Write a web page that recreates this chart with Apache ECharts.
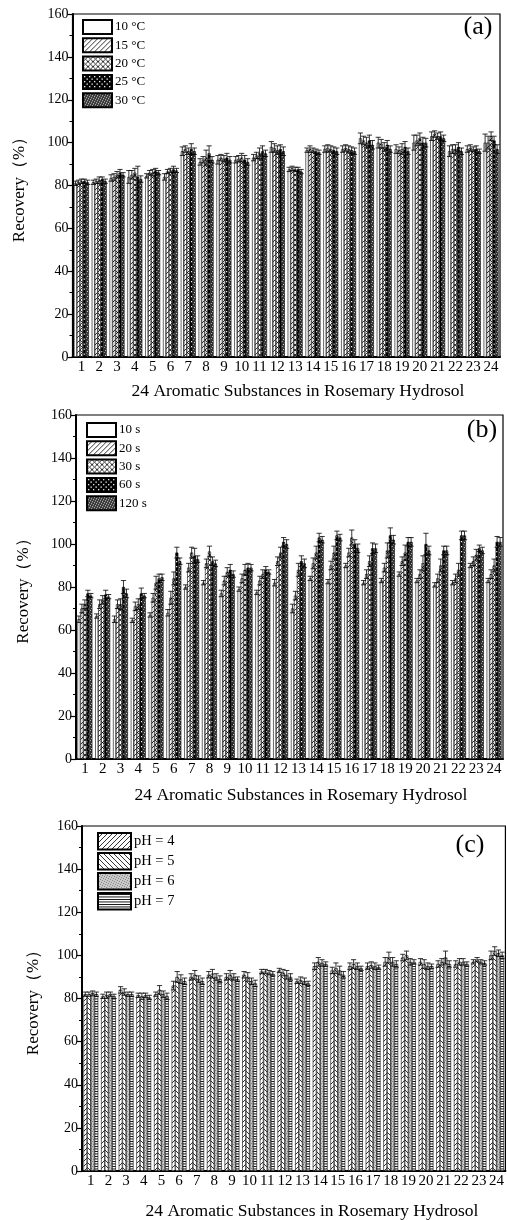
<!DOCTYPE html>
<html><head><meta charset="utf-8">
<script src="https://cdn.jsdelivr.net/npm/echarts/dist/echarts.min.js"></script>
<style>html,body{margin:0;padding:0;background:#fff;}#c{width:507px;height:1220px;}</style>
</head><body><div id="c"></div>
<script>
const categories = ['1','2','3','4','5','6','7','8','9','10','11','12','13','14','15','16','17','18','19','20','21','22','23','24'];
const yTickValues = [0,20,40,60,80,100,120,140,160];

// Panel (a): temperature
const tempNames = ['10 °C','15 °C','20 °C','25 °C','30 °C'];
const t10 = [81.0,81.5,83.5,84.0,84.5,84.0,96.0,91.0,92.0,92.0,93.0,98.0,87.5,96.5,97.0,97.0,102.0,100.0,97.0,100.0,103.0,96.0,97.0,100.0];
const t15 = [81.5,82.0,84.0,85.0,86.0,86.5,97.0,92.0,93.0,92.5,94.0,97.5,88.0,97.0,97.5,97.5,101.0,99.5,96.5,101.0,104.0,97.0,97.5,100.0];
const t20 = [82.0,82.5,85.0,86.0,86.0,87.0,96.0,93.0,92.5,93.0,95.0,96.5,87.5,96.5,97.0,97.0,100.0,98.0,97.0,102.0,103.0,97.0,97.0,103.0];
const t25 = [82.0,83.0,86.0,84.0,87.0,87.5,97.0,95.0,93.0,92.0,96.0,97.0,87.5,96.0,96.5,96.5,101.0,99.0,98.0,100.0,103.0,98.0,97.0,101.0];
const t30 = [81.5,82.0,85.0,83.0,86.0,87.0,96.0,92.0,92.0,91.0,95.0,96.0,86.5,95.5,96.0,96.0,99.0,97.0,96.0,100.0,102.0,96.0,96.0,97.0];
const et10 = [1.0,1.0,1.5,3.0,1.0,1.5,2.0,1.5,2.0,1.5,1.5,2.5,1.0,1.0,1.5,1.5,2.5,2.5,2.0,3.5,2.0,2.5,1.5,4.0];
const et15 = [1.0,1.0,1.5,2.0,1.0,1.0,1.5,1.5,1.5,1.5,1.5,2.0,1.0,1.5,1.5,1.5,2.0,2.0,1.5,2.5,1.5,2.0,1.5,3.0];
const et20 = [1.0,1.5,1.5,2.0,1.5,1.0,1.5,3.5,1.5,2.0,2.5,2.0,1.0,1.0,1.5,1.5,2.5,2.0,2.5,2.5,1.5,2.0,1.0,2.0];
const et25 = [1.0,1.0,1.5,5.0,1.0,1.5,2.5,3.5,2.0,2.0,2.5,2.0,1.0,1.0,1.5,1.5,2.5,2.0,2.5,2.5,2.0,2.0,1.5,2.0];
const et30 = [1.0,1.0,1.0,1.5,1.0,1.0,1.5,1.5,1.5,1.5,1.5,2.0,1.0,1.0,1.5,1.5,2.0,1.5,1.5,2.0,1.5,1.5,1.0,2.0];

// Panel (b): time
const timeNames = ['10 s','20 s','30 s','60 s','120 s'];
const s10 = [65.0,66.5,65.0,64.5,67.0,68.0,80.0,82.0,77.0,79.0,77.5,82.0,70.0,84.0,82.5,90.0,82.0,83.0,86.0,83.0,81.0,82.0,90.0,83.0];
const s20 = [70.0,72.0,72.0,71.0,75.0,75.0,89.0,91.0,83.0,84.0,83.0,92.0,76.0,91.0,90.0,96.0,86.0,89.0,92.0,86.0,84.0,84.0,92.0,86.0];
const s30 = [72.0,74.0,72.0,72.0,82.0,84.0,96.0,96.5,87.0,88.0,86.0,96.0,88.0,96.0,96.0,103.0,92.0,97.0,96.0,91.0,90.0,88.0,95.0,90.0];
const s60 = [77.0,76.5,80.0,77.0,84.0,96.0,94.5,92.0,88.0,89.0,88.0,101.0,92.0,103.0,104.0,100.0,98.0,104.0,101.0,100.0,97.0,104.0,98.0,101.0];
const s120 = [76.0,75.5,77.0,76.0,84.5,92.0,93.0,91.0,86.0,89.0,87.0,100.0,91.0,102.0,103.0,98.0,98.0,102.0,101.0,97.0,97.0,104.0,97.0,101.0];
const es10 = [1.5,1.0,1.5,1.0,1.0,1.5,1.0,1.0,1.5,1.0,1.0,1.5,2.0,1.0,1.0,1.0,1.0,1.0,1.0,1.0,1.0,1.0,1.0,1.0];
const es20 = [2.0,2.0,2.0,2.0,2.0,3.0,2.0,2.0,2.0,2.0,2.0,2.0,2.0,2.5,2.0,2.0,2.0,2.0,2.0,2.0,2.0,2.0,2.0,2.0];
const es30 = [2.0,2.0,2.5,2.5,3.0,3.0,2.5,2.5,2.0,2.5,2.0,2.5,3.0,3.0,3.0,3.5,2.5,3.5,3.5,3.5,3.0,3.0,2.5,3.0];
const es60 = [1.5,2.0,3.0,2.5,2.0,2.5,3.5,2.0,2.5,2.0,1.5,2.0,2.5,2.0,2.0,2.0,2.5,3.5,2.0,5.0,2.0,2.0,1.5,2.5];
const es120 = [1.0,1.0,2.0,1.0,1.5,1.5,1.5,1.5,1.5,1.5,1.0,2.0,2.0,1.5,1.5,2.0,2.0,2.0,2.0,2.0,2.0,2.0,1.5,2.0];

// Panel (c): pH
const phNames = ['pH = 4','pH = 5','pH = 6','pH = 7'];
const p4 = [82.0,81.0,84.0,81.5,82.0,86.0,90.0,91.0,90.0,91.0,92.5,93.0,88.0,95.0,93.0,95.0,95.0,97.0,99.0,97.0,96.0,96.0,97.0,100.0];
const p5 = [82.0,81.5,83.0,81.0,84.0,90.0,91.0,91.5,91.0,90.0,92.5,92.0,88.5,97.0,94.0,96.0,95.5,99.0,100.0,96.0,97.0,97.0,98.0,102.0];
const p6 = [82.5,82.0,82.0,81.5,82.0,89.0,89.0,90.0,90.0,88.0,92.0,91.0,88.0,96.5,93.0,95.0,95.0,97.0,97.0,95.0,99.0,97.0,97.0,101.0];
const p7 = [82.0,81.0,82.0,80.5,81.0,88.0,88.0,89.0,89.0,87.0,91.5,90.0,87.0,96.0,91.0,94.0,94.5,96.0,97.0,95.0,96.0,96.0,96.5,100.0];
const ep4 = [1.0,1.0,1.5,1.0,1.0,2.0,1.5,1.5,1.5,1.5,1.0,1.0,1.0,1.5,1.5,1.5,1.5,2.0,1.5,1.5,1.5,1.5,1.0,2.0];
const ep5 = [1.0,1.5,1.5,1.5,2.0,2.5,2.0,2.0,2.0,2.0,1.0,1.5,1.5,2.0,2.5,2.0,1.5,2.5,2.0,2.0,1.5,1.5,1.0,2.0];
const ep6 = [1.0,1.0,1.0,1.0,1.5,2.0,1.5,1.5,1.5,1.5,1.0,2.0,1.5,1.5,2.0,1.5,1.5,2.0,1.5,1.5,3.0,1.5,1.0,1.5];
const ep7 = [1.0,1.0,1.0,1.0,1.5,1.5,1.5,1.5,1.0,1.5,1.0,1.5,1.0,1.0,1.5,1.0,1.0,1.5,1.0,1.0,1.5,1.0,1.0,1.5];

const xTitle = '24 Aromatic Substances in Rosemary Hydrosol';
const yTitle = 'Recovery（%）';
const panelLabels = ['(a)','(b)','(c)'];

// ---------- styling ----------
const SERIF = '"Liberation Serif","DejaVu Serif",serif';
function makePattern(kind) {
  const s = 5;
  const c = document.createElement('canvas');
  c.width = s; c.height = s;
  const g = c.getContext('2d');
  g.fillStyle = '#fff'; g.fillRect(0, 0, s, s);
  g.strokeStyle = '#000'; g.lineWidth = 0.8;
  const line = (x1, y1, x2, y2) => { g.beginPath(); g.moveTo(x1, y1); g.lineTo(x2, y2); g.stroke(); };
  if (kind === 'diag' || kind === 'cross') { line(-1, s + 1, s + 1, -1); line(-1, 1, 1, -1); line(s - 1, s + 1, s + 1, s - 1); }
  if (kind === 'back' || kind === 'cross') { line(-1, -1, s + 1, s + 1); line(s - 1, -1, s + 1, 1); line(-1, s - 1, 1, s + 1); }
  if (kind === 'check') {
    g.fillStyle = '#000'; g.fillRect(0, 0, s, s);
    g.fillStyle = '#fff'; g.fillRect(1, 1, 1.3, 1.3); g.fillRect(3.5, 3.5, 1.3, 1.3);
  }
  if (kind === 'dots') {
    g.fillStyle = '#3a3a3a'; g.fillRect(0, 0, s, s);
    g.fillStyle = '#ccc';
    g.fillRect(0, 0, 1, 1); g.fillRect(2, 1, 1, 1); g.fillRect(4, 2, 1, 1); g.fillRect(1, 3, 1, 1); g.fillRect(3, 4, 1, 1);
  }
  if (kind === 'fine') {
    g.fillStyle = '#c8c8c8'; g.fillRect(0, 0, s, s);
    g.fillStyle = '#888';
    g.fillRect(0, 0, 1, 1); g.fillRect(2, 1, 1, 1); g.fillRect(4, 2, 1, 1); g.fillRect(1, 3, 1, 1); g.fillRect(3, 4, 1, 1);
  }
  if (kind === 'horiz') { g.fillStyle = '#000'; g.fillRect(0, 1, s, 0.9); g.fillRect(0, 3.5, s, 0.9); }
  return { image: c, repeat: 'repeat' };
}

const panels = [
  { names: tempNames, vals: [t10, t15, t20, t25, t30], errs: [et10, et15, et20, et25, et30],
    pats: ['blank', 'diag', 'cross', 'check', 'dots'],
    grid: { left: 72.5, top: 14, width: 427.5, height: 343 },
    legend: { left: 82, top: 19, itemWidth: 29, itemHeight: 14, itemGap: 2.3, fontSize: 13 },
    label: { x: 478, y: 27 }, xt: { x: 298, y: 391 }, nameGap: 44 },
  { names: timeNames, vals: [s10, s20, s30, s60, s120], errs: [es10, es20, es30, es60, es120],
    pats: ['blank', 'diag', 'cross', 'check', 'dots'],
    grid: { left: 76, top: 415, width: 427, height: 344 },
    legend: { left: 86, top: 422, itemWidth: 29, itemHeight: 14, itemGap: 2.3, fontSize: 13 },
    label: { x: 482, y: 430 }, xt: { x: 301, y: 795 }, nameGap: 44 },
  { names: phNames, vals: [p4, p5, p6, p7], errs: [ep4, ep5, ep6, ep7],
    pats: ['diag', 'back', 'fine', 'horiz'],
    grid: { left: 82, top: 826, width: 428, height: 345 },
    legend: { left: 97, top: 832, itemWidth: 33, itemHeight: 16.5, itemGap: 1.5, fontSize: 14.5 },
    label: { x: 470, y: 845 }, xt: { x: 312, y: 1211 }, nameGap: 40 }
];

const CAT_GAP = 0.16;
const grids = [], xAxes = [], yAxes = [], legends = [], series = [], graphics = [];
panels.forEach((p, pi) => {
  grids.push(Object.assign({ show: true, borderColor: '#000', borderWidth: 1.2, backgroundColor: 'transparent' }, p.grid));
  xAxes.push({
    type: 'category', gridIndex: pi, data: categories,
    axisLine: { show: true, lineStyle: { color: '#000', width: 2 } },
    axisTick: { show: false },
    axisLabel: { interval: 0, color: '#000', fontFamily: SERIF, fontSize: 15, margin: 3 },
    splitLine: { show: false }
  });
  yAxes.push({
    type: 'value', gridIndex: pi, min: yTickValues[0], max: yTickValues[yTickValues.length - 1], interval: 20,
    name: yTitle, nameLocation: 'middle', nameGap: p.nameGap,
    nameTextStyle: { color: '#000', fontFamily: SERIF, fontSize: 17 },
    axisLine: { show: true, lineStyle: { color: '#000', width: 2 } },
    axisTick: { show: true, length: 5, lineStyle: { color: '#000', width: 1.2 } },
    minorTick: { show: true, splitNumber: 2, length: 3, lineStyle: { color: '#000', width: 1 } },
    axisLabel: { color: '#000', fontFamily: SERIF, fontSize: 14, margin: 4 },
    splitLine: { show: false }, minorSplitLine: { show: false }
  });
  legends.push({
    data: p.names, orient: 'vertical', left: p.legend.left, top: p.legend.top, padding: 0,
    itemWidth: p.legend.itemWidth, itemHeight: p.legend.itemHeight, itemGap: p.legend.itemGap,
    icon: 'rect', selectedMode: false,
    textStyle: { color: '#000', fontFamily: SERIF, fontSize: p.legend.fontSize, padding: [0, 0, 0, -2] }
  });
  const n = p.names.length;
  p.names.forEach((nm, si) => {
    series.push({
      type: 'bar', name: nm, xAxisIndex: pi, yAxisIndex: pi, data: p.vals[si],
      barGap: '0%', barCategoryGap: (CAT_GAP * 100) + '%',
      itemStyle: { color: makePattern(p.pats[si]), borderColor: '#000', borderWidth: 0.6 },
      emphasis: { disabled: true }, silent: true, animation: false
    });
  });
  const errData = [];
  p.names.forEach((nm, si) => {
    p.vals[si].forEach((v, ci) => errData.push([ci, v, p.errs[si][ci], si, n]));
  });
  series.push({
    type: 'custom', xAxisIndex: pi, yAxisIndex: pi, data: errData, z: 10, silent: true, animation: false,
    encode: { x: 0, y: 1 },
    renderItem: function (params, api) {
      const ci = api.value(0), v = api.value(1), e = api.value(2), si = api.value(3), nn = api.value(4);
      const c = api.coord([ci, v]);
      const band = api.size([1, 0])[0];
      const gw = band * (1 - CAT_GAP);
      const bw = gw / nn;
      const x = c[0] - gw / 2 + bw * (si + 0.5);
      const hi = api.coord([ci, v + e])[1], lo = api.coord([ci, v - e])[1];
      const cap = 2.6;
      const st = { stroke: '#000', lineWidth: 0.8, fill: null };
      return { type: 'group', children: [
        { type: 'line', shape: { x1: x, y1: hi, x2: x, y2: lo }, style: st },
        { type: 'line', shape: { x1: x - cap, y1: hi, x2: x + cap, y2: hi }, style: st },
        { type: 'line', shape: { x1: x - cap, y1: lo, x2: x + cap, y2: lo }, style: st }
      ] };
    }
  });
  graphics.push({ type: 'text', x: p.label.x, y: p.label.y, z: 20,
    style: { text: panelLabels[pi], fill: '#000', font: '26px ' + SERIF, textAlign: 'center', textVerticalAlign: 'middle' } });
  graphics.push({ type: 'text', x: p.xt.x, y: p.xt.y, z: 20,
    style: { text: xTitle, fill: '#000', font: '17.5px ' + SERIF, textAlign: 'center', textVerticalAlign: 'middle' } });
});

const chart = echarts.init(document.getElementById('c'), null, { renderer: 'canvas' });
chart.setOption({
  backgroundColor: '#fff', animation: false,
  grid: grids, xAxis: xAxes, yAxis: yAxes, legend: legends, series: series,
  graphic: { elements: graphics }, tooltip: { show: false }
});
</script>
</body></html>
